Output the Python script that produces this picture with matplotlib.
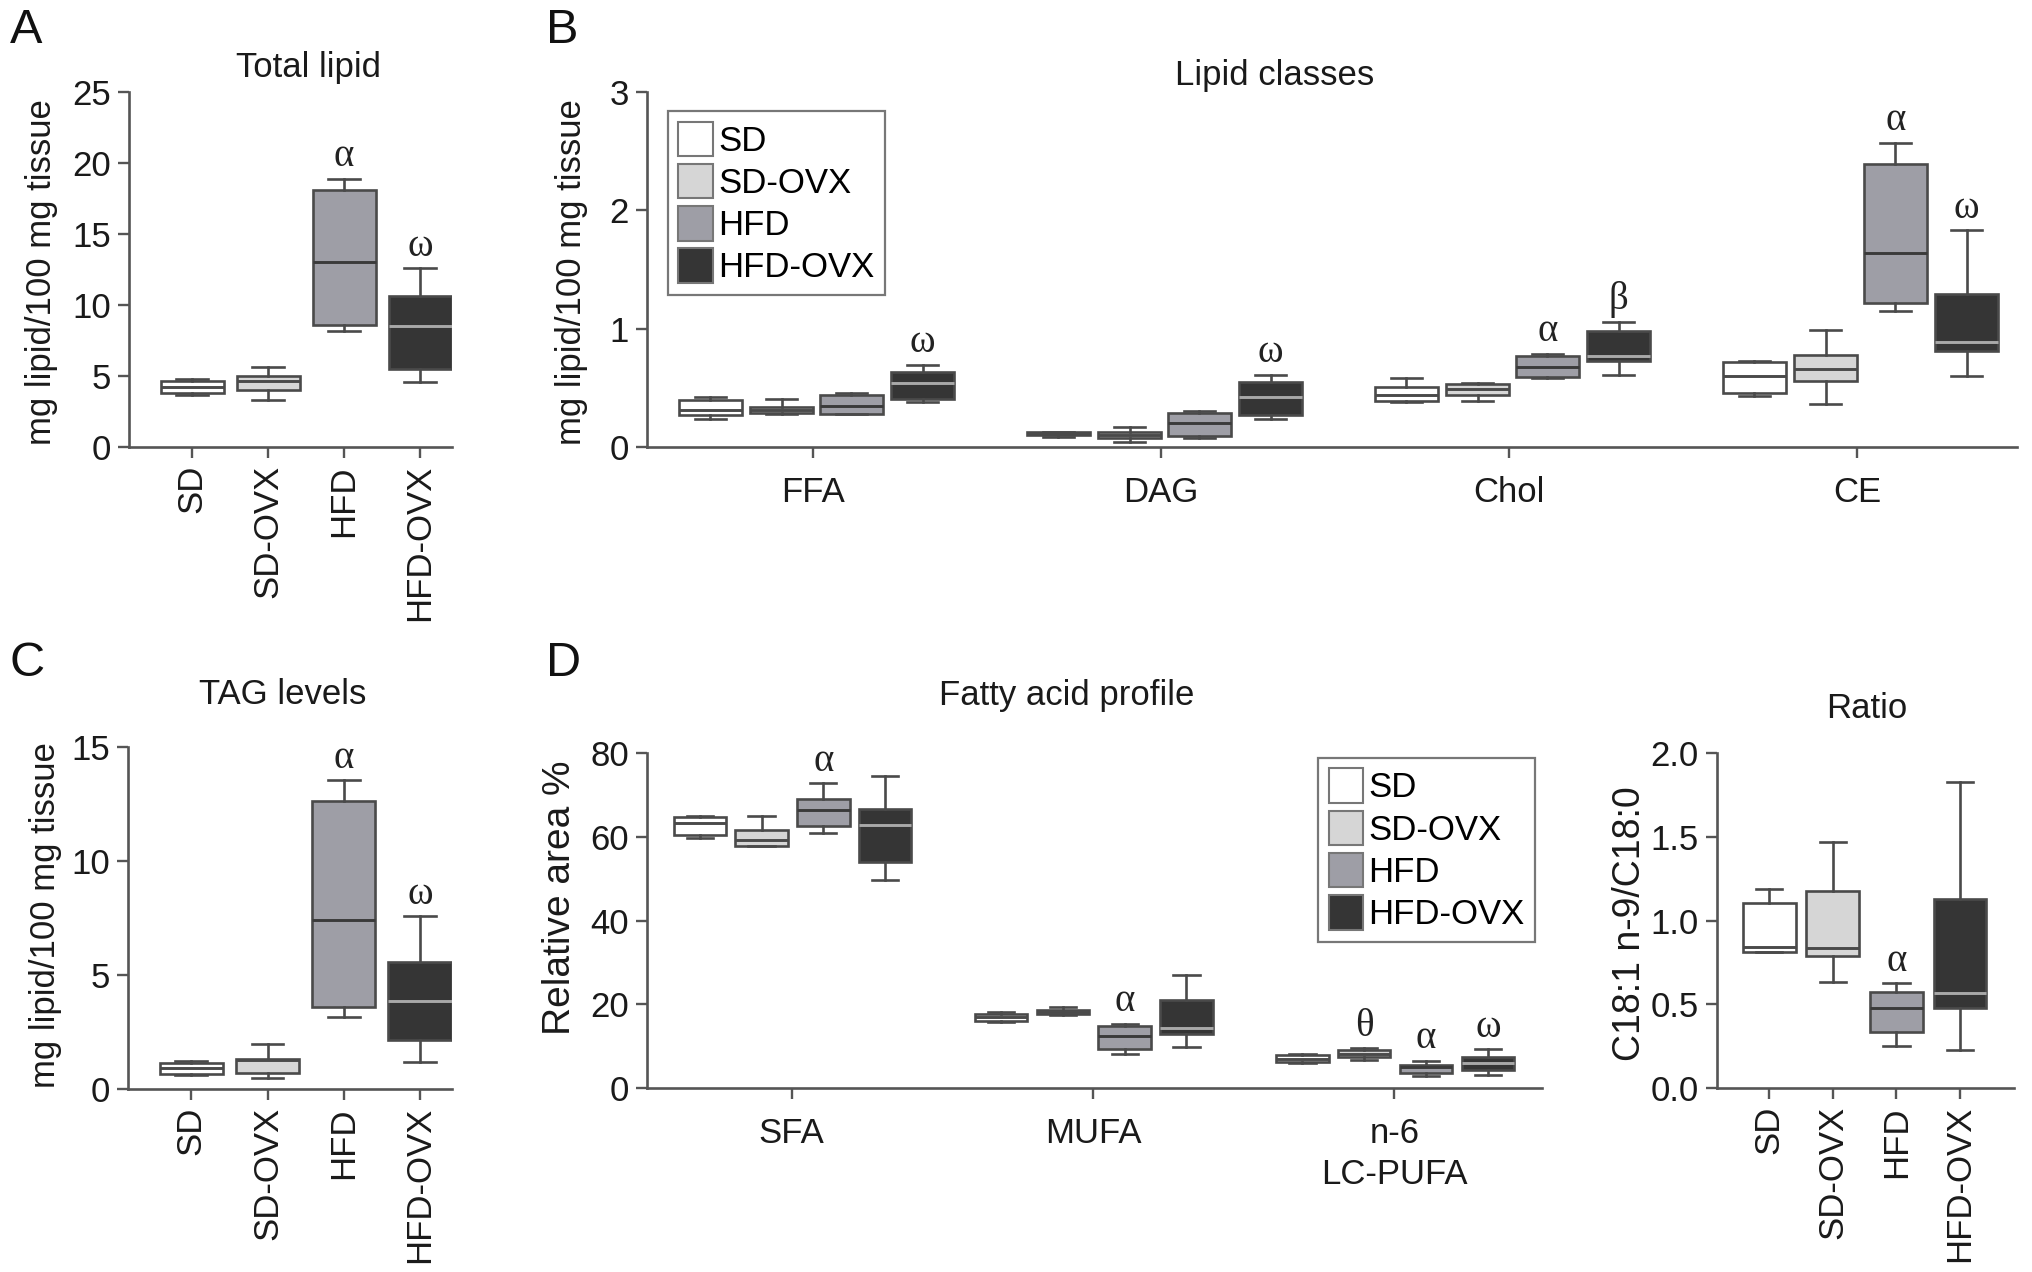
import matplotlib
matplotlib.use("Agg")
import matplotlib.pyplot as plt
from matplotlib.patches import Patch
from matplotlib import font_manager

# ---------------- data (five-number summaries: whisker low, Q1, median, Q3, whisker high)
groups = ["SD", "SD-OVX", "HFD", "HFD-OVX"]

total_lipid = [[3.64, 3.80, 4.20, 4.67, 4.79],
               [3.29, 3.99, 4.67, 4.98, 5.63],
               [8.19, 8.62, 13.03, 18.12, 18.90],
               [4.58, 5.52, 8.50, 10.60, 12.60]]
total_marks = ["", "", "α", "ω"]

tag_levels = [[0.61, 0.66, 0.91, 1.12, 1.24],
              [0.47, 0.69, 1.27, 1.31, 1.97],
              [3.14, 3.58, 7.40, 12.63, 13.54],
              [1.17, 2.15, 3.86, 5.55, 7.58]]
tag_marks = ["", "", "α", "ω"]

lipid_classes = ["FFA", "DAG", "Chol", "CE"]
ffa = [[0.240, 0.273, 0.315, 0.394, 0.423],
       [0.280, 0.287, 0.315, 0.338, 0.403],
       [0.276, 0.280, 0.346, 0.437, 0.460],
       [0.380, 0.408, 0.544, 0.634, 0.696]]
dag = [[0.085, 0.100, 0.113, 0.127, 0.130],
       [0.040, 0.080, 0.104, 0.127, 0.170],
       [0.080, 0.090, 0.200, 0.290, 0.300],
       [0.240, 0.270, 0.420, 0.550, 0.610]]
chol = [[0.380, 0.390, 0.440, 0.510, 0.580],
        [0.390, 0.440, 0.490, 0.535, 0.540],
        [0.580, 0.590, 0.680, 0.770, 0.790],
        [0.610, 0.730, 0.770, 0.980, 1.060]]
ce = [[0.430, 0.460, 0.600, 0.720, 0.730],
      [0.360, 0.560, 0.660, 0.780, 0.990],
      [1.150, 1.220, 1.640, 2.390, 2.570],
      [0.600, 0.810, 0.890, 1.290, 1.830]]
class_marks = [["", "", "", "ω"],
               ["", "", "", "ω"],
               ["", "", "α", "β"],
               ["", "", "α", "ω"]]

fatty_acids = ["SFA", "MUFA", "n-6\nLC-PUFA"]
sfa = [[59.7, 60.5, 63.3, 64.7, 65.0],
       [57.8, 57.8, 59.2, 61.6, 65.0],
       [60.8, 62.5, 66.3, 69.1, 72.8],
       [49.6, 53.9, 62.9, 66.6, 74.5]]
mufa = [[15.8, 16.1, 17.0, 17.7, 18.1],
        [17.5, 17.7, 18.2, 18.7, 19.3],
        [8.1, 9.3, 12.5, 14.7, 15.4],
        [9.7, 13.0, 14.4, 20.9, 27.1]]
n6_lcpufa = [[6.0, 6.1, 6.9, 7.8, 8.1],
             [6.8, 7.4, 8.2, 9.0, 9.5],
             [2.8, 3.7, 4.9, 5.6, 6.5],
             [3.0, 4.4, 5.9, 7.3, 9.3]]
fa_marks = [["", "", "α", ""],
            ["", "", "α", ""],
            ["", "θ", "α", "ω"]]

ratio = [[0.810, 0.810, 0.844, 1.104, 1.188],
         [0.630, 0.788, 0.834, 1.178, 1.466],
         [0.250, 0.334, 0.477, 0.576, 0.626],
         [0.228, 0.480, 0.566, 1.126, 1.827]]
ratio_marks = ["", "", "α", ""]

# ---------------- style
face_colors = ["#ffffff", "#d6d6d6", "#9e9ea6", "#353535"]
median_colors = ["#4a4a4a", "#4a4a4a", "#3a3a3a", "#a8a8a8"]
EDGE = "#4a4a4a"
AXC = "#555555"

names = {f.name for f in font_manager.fontManager.ttflist}
SANS = "Liberation Sans" if "Liberation Sans" in names else "DejaVu Sans"
NARROW = "Liberation Sans Narrow" if "Liberation Sans Narrow" in names else None
SERIF = "Liberation Serif" if "Liberation Serif" in names else "DejaVu Serif"
plt.rcParams["font.family"] = [SANS, "DejaVu Sans"]

W, H = 2032, 1272
fig = plt.figure(figsize=(W / 100, H / 100), dpi=100)


def px_axes(l, t, r, b):
    return fig.add_axes([l / W, 1 - b / H, (r - l) / W, (b - t) / H])


def to_stats(five):
    lo, q1, med, q3, hi = five
    return dict(whislo=lo, q1=q1, med=med, q3=q3, whishi=hi, fliers=[])


def draw(ax, summaries, positions, width, colors_idx, marks):
    stats = [to_stats(s) for s in summaries]
    res = ax.bxp(stats, positions=positions, widths=width, patch_artist=True,
                 showfliers=False, capwidths=width * 0.5,
                 boxprops=dict(edgecolor=EDGE, linewidth=1.9),
                 whiskerprops=dict(color=EDGE, linewidth=1.9),
                 capprops=dict(color=EDGE, linewidth=1.9),
                 medianprops=dict(linewidth=2.1), manage_ticks=False)
    for box, med, ci in zip(res["boxes"], res["medians"], colors_idx):
        box.set_facecolor(face_colors[ci])
        med.set_color(median_colors[ci])
    for s, x, m in zip(summaries, positions, marks):
        if m:
            ax.annotate(m, (x, s[4]), xytext=(0, 9), textcoords="offset points",
                        ha="center", va="baseline", fontsize=28, family=SERIF,
                        color="#222222")


def style_axes(ax):
    for side in ("top", "right"):
        ax.spines[side].set_visible(False)
    for side in ("left", "bottom"):
        ax.spines[side].set_color(AXC)
        ax.spines[side].set_linewidth(1.9)
    ax.tick_params(direction="out", length=8, width=1.7, color=AXC,
                   labelsize=25, labelcolor="#1a1a1a", pad=5)


def legend(ax, anchor):
    handles = [Patch(facecolor=c, edgecolor="#777777", linewidth=1.5) for c in face_colors]
    kw = dict(family=NARROW, size=28) if NARROW else dict(family=SANS, size=25)
    lg = ax.legend(handles, groups, loc="upper left", bbox_to_anchor=anchor,
                   borderaxespad=0, fancybox=False, framealpha=1,
                   edgecolor="#777777", prop=kw, handlelength=1.0,
                   handleheight=1.15, handletextpad=0.15, labelspacing=0.18,
                   borderpad=0.3)
    lg.get_frame().set_linewidth(1.6)


# ---------------- Panel A
axA = px_axes(129, 92, 452, 447)
draw(axA, total_lipid, range(4), 0.83, range(4), total_marks)
axA.set_xlim(-0.83, 3.42)
axA.set_ylim(0, 25)
axA.set_yticks([0, 5, 10, 15, 20, 25])
axA.set_xticks(range(4))
axA.set_xticklabels(groups, rotation=90)
style_axes(axA)

# ---------------- Panel B
axB = px_axes(647, 92, 2017, 447)
offsets = [-0.295, -0.09, 0.11, 0.315]
for gi, data in enumerate([ffa, dag, chol, ce]):
    draw(axB, data, [gi + o for o in offsets], 0.18, range(4), class_marks[gi])
axB.set_xlim(-0.477, 3.46)
axB.set_ylim(0, 3)
axB.set_yticks([0, 1, 2, 3])
axB.set_xticks(range(4))
axB.set_xticklabels(lipid_classes)
style_axes(axB)
axB.tick_params(axis="x", pad=13)
legend(axB, (0.0153, 0.946))

# ---------------- Panel C
axC = px_axes(128, 747, 452, 1089)
draw(axC, tag_levels, range(4), 0.83, range(4), tag_marks)
axC.set_xlim(-0.83, 3.42)
axC.set_ylim(0, 15)
axC.set_yticks([0, 5, 10, 15])
axC.set_xticks(range(4))
axC.set_xticklabels(groups, rotation=90)
style_axes(axC)

# ---------------- Panel D
axD = px_axes(647, 753, 1542, 1088)
offsetsD = [-0.305, -0.1, 0.105, 0.31]
for gi, data in enumerate([sfa, mufa, n6_lcpufa]):
    draw(axD, data, [gi + o for o in offsetsD], 0.174, range(4), fa_marks[gi])
axD.set_xlim(-0.48, 2.49)
axD.set_ylim(0, 80)
axD.set_yticks([0, 20, 40, 60, 80])
axD.set_xticks(range(3))
axD.set_xticklabels(fatty_acids, linespacing=1.3)
style_axes(axD)
axD.tick_params(axis="x", pad=13)
legend(axD, (0.75, 0.985))

# ---------------- Ratio panel
axR = px_axes(1717, 753, 2014, 1088)
draw(axR, ratio, range(4), 0.83, range(4), ratio_marks)
axR.set_xlim(-0.82, 3.85)
axR.set_ylim(0, 2.0)
axR.set_yticks([0, 0.5, 1.0, 1.5, 2.0])
axR.set_yticklabels(["0.0", "0.5", "1.0", "1.5", "2.0"])
axR.set_xticks(range(4))
axR.set_xticklabels(groups, rotation=90)
style_axes(axR)


# ---------------- texts
def ftext(x, y, s, **kw):
    fig.text(x / W, 1 - y / H, s, **kw)


for x, y, s in [(10, 8, "A"), (546, 8, "B"), (10, 641, "C"), (546, 641, "D")]:
    ftext(x, y, s, fontsize=35, ha="left", va="top", color="#111111")

for x, y, s in [(308, 67, "Total lipid"), (1275, 75, "Lipid classes"),
                (283, 695, "TAG levels"), (1067, 695, "Fatty acid profile"),
                (1867, 708, "Ratio")]:
    ftext(x, y, s, fontsize=25, ha="center", va="center", color="#1a1a1a")

for x, y, s, fs in [(42, 272, "mg lipid/100 mg tissue", 25),
                    (571, 272, "mg lipid/100 mg tissue", 25),
                    (46, 915, "mg lipid/100 mg tissue", 25),
                    (560, 898, "Relative area %", 28),
                    (1630, 924, "C18:1 n-9/C18:0", 27)]:
    ftext(x, y, s, fontsize=fs, ha="center", va="center", rotation=90, color="#1a1a1a")

fig.savefig("out.png", dpi=100, facecolor="white")
